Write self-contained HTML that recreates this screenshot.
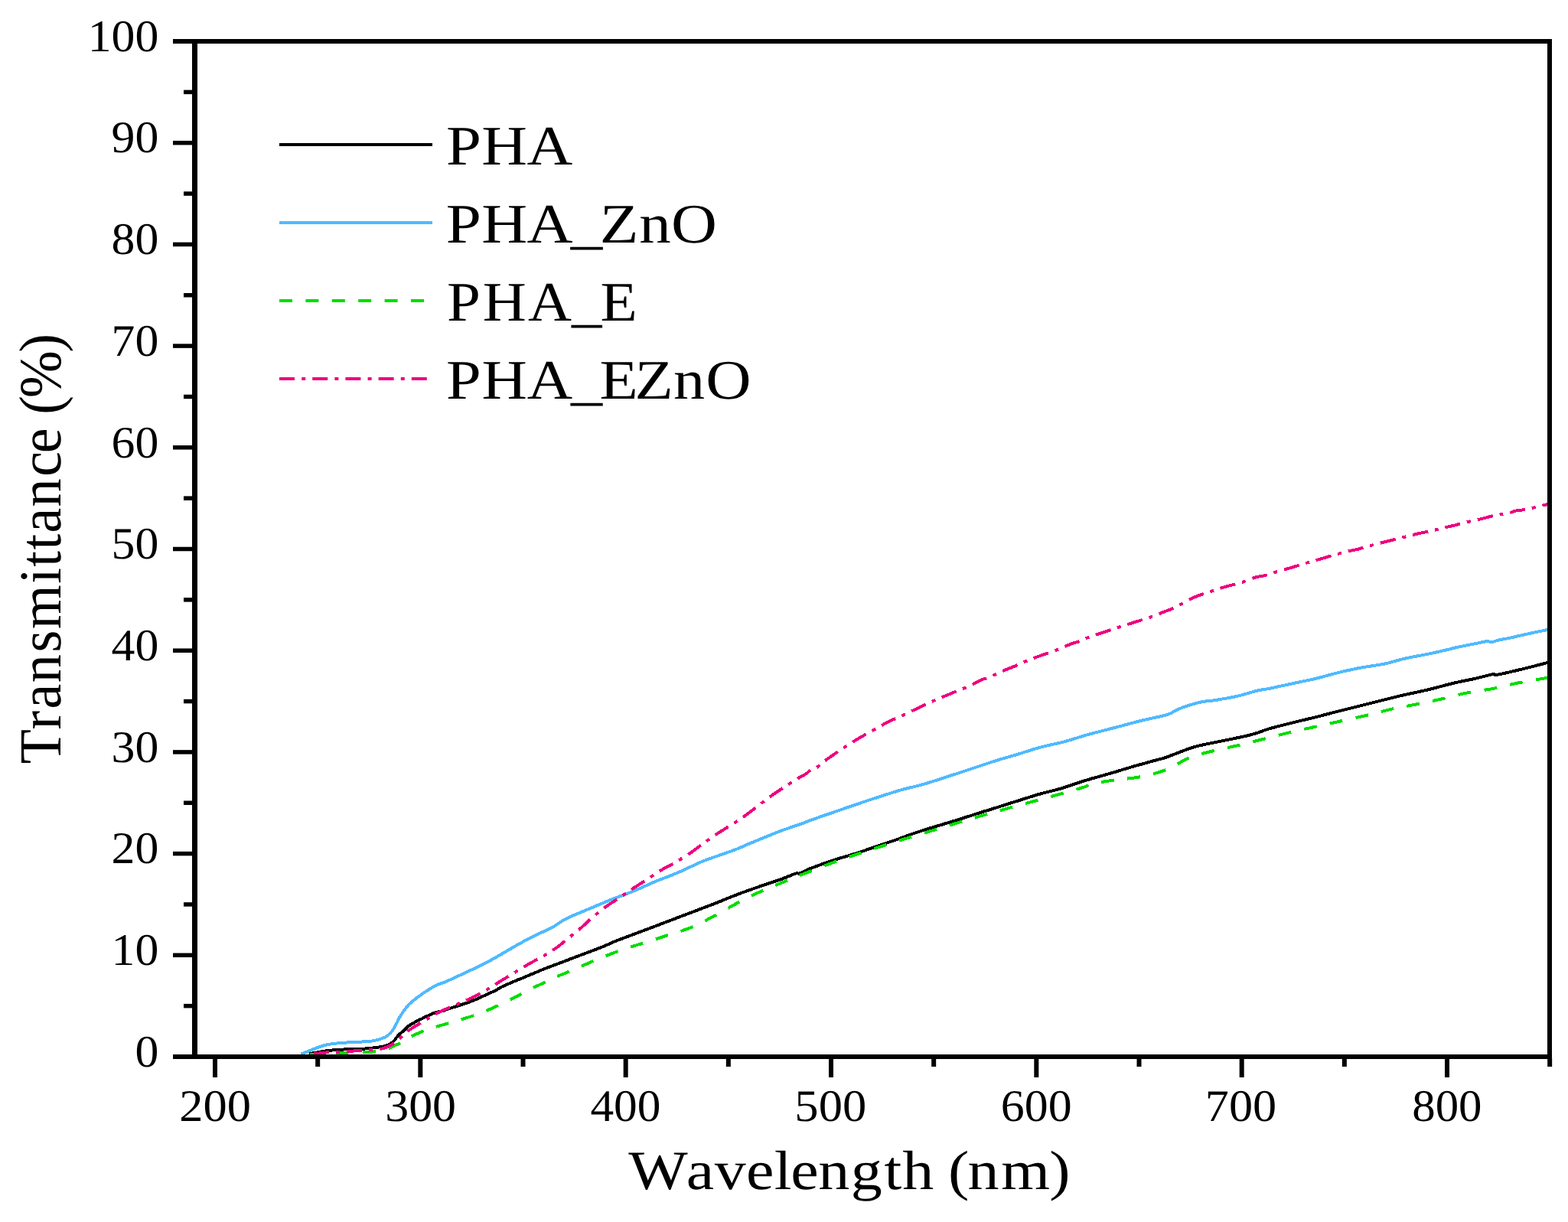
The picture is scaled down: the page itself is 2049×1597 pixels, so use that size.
<!DOCTYPE html>
<html><head><meta charset="utf-8"><title>Transmittance</title><style>html,body{margin:0;padding:0;background:#fff;width:2049px;height:1597px;overflow:hidden}svg{display:block}text{text-rendering:geometricPrecision}</style></head><body>
<svg width="2049" height="1597" viewBox="0 0 2049 1597">
<rect width="2049" height="1597" fill="#fff"/>
<g fill="none" stroke-width="4" stroke-linejoin="round" shape-rendering="crispEdges">
<path d="M403.8 1377.4 C405.5 1377.1 410.9 1376.0 414.3 1375.4 C417.7 1374.8 420.8 1374.2 424.0 1373.7 C427.2 1373.2 430.5 1372.8 433.8 1372.5 C437.1 1372.2 440.4 1372.2 443.6 1372.0 C446.9 1371.8 448.4 1371.4 453.3 1371.2 C458.2 1371.0 468.4 1371.0 472.8 1370.8 C477.2 1370.6 476.7 1370.5 480.0 1370.2 C483.3 1369.9 488.9 1369.4 492.5 1368.9 C496.1 1368.4 499.1 1368.0 501.9 1367.3 C504.7 1366.6 507.3 1365.6 509.4 1364.5 C511.5 1363.4 512.6 1362.6 514.4 1360.8 C516.2 1359.0 518.0 1355.8 520.1 1353.6 C522.2 1351.3 524.8 1349.3 527.0 1347.3 C529.2 1345.3 530.6 1343.3 533.2 1341.4 C535.8 1339.5 539.5 1337.4 542.6 1335.7 C545.7 1334.0 548.9 1332.6 552.0 1331.0 C555.1 1329.4 558.3 1327.7 561.4 1326.4 C564.5 1325.0 567.7 1323.7 570.8 1322.8 C573.9 1321.8 577.4 1321.3 580.0 1320.6 C582.6 1319.8 583.3 1319.3 586.4 1318.3 C589.5 1317.3 593.4 1316.2 598.8 1314.4 C604.2 1312.6 611.7 1310.3 618.6 1307.5 C625.5 1304.7 635.1 1300.0 640.0 1297.8 C644.9 1295.6 645.4 1295.6 647.8 1294.3 C650.2 1293.0 651.0 1292.0 654.6 1290.2 C658.2 1288.4 665.5 1285.3 669.3 1283.7 C673.0 1282.1 674.7 1281.4 677.1 1280.4 C679.5 1279.4 680.3 1279.2 683.9 1277.7 C687.5 1276.2 694.0 1273.4 698.6 1271.5 C703.2 1269.6 706.4 1268.1 711.5 1266.1 C716.6 1264.1 721.4 1262.4 729.3 1259.4 C737.1 1256.4 748.9 1252.0 758.6 1248.3 C768.4 1244.6 780.5 1240.1 787.8 1237.2 C795.1 1234.3 797.5 1232.8 802.6 1230.7 C807.7 1228.6 810.7 1227.5 818.5 1224.6 C826.3 1221.6 839.3 1216.8 849.3 1213.0 C859.3 1209.2 871.4 1204.7 878.6 1201.9 C885.9 1199.1 887.9 1198.3 892.8 1196.5 C897.7 1194.6 900.4 1193.6 907.8 1190.8 C915.2 1188.0 929.8 1182.5 937.1 1179.6 C944.4 1176.7 945.4 1176.1 951.7 1173.6 C958.0 1171.1 967.3 1167.5 975.1 1164.7 C982.9 1161.9 990.8 1159.2 998.6 1156.5 C1006.4 1153.8 1015.2 1151.1 1022.0 1148.6 C1028.8 1146.1 1035.7 1142.8 1039.6 1141.6 C1043.5 1140.4 1042.2 1142.4 1045.4 1141.3 C1048.6 1140.2 1051.2 1138.1 1058.5 1135.2 C1065.8 1132.3 1079.3 1127.4 1089.3 1124.1 C1099.3 1120.8 1108.8 1118.4 1118.6 1115.3 C1128.3 1112.2 1138.0 1108.6 1147.8 1105.3 C1157.5 1102.0 1169.8 1098.0 1177.1 1095.4 C1184.4 1092.8 1184.4 1092.4 1191.7 1089.9 C1199.0 1087.4 1211.2 1083.6 1221.0 1080.6 C1230.8 1077.6 1243.4 1073.9 1250.3 1071.8 C1257.2 1069.7 1257.7 1069.4 1262.6 1067.9 C1267.5 1066.3 1273.6 1064.3 1279.6 1062.4 C1285.6 1060.5 1290.2 1059.2 1298.5 1056.6 C1306.8 1054.0 1319.3 1049.9 1329.3 1046.8 C1339.3 1043.7 1348.8 1040.5 1358.6 1037.7 C1368.3 1034.9 1377.8 1033.1 1387.8 1030.1 C1397.8 1027.1 1408.2 1023.0 1418.5 1019.9 C1428.8 1016.8 1439.3 1014.1 1449.3 1011.2 C1459.3 1008.3 1468.8 1005.2 1478.6 1002.4 C1488.3 999.6 1500.5 996.2 1507.8 994.2 C1515.1 992.2 1517.5 991.8 1522.6 990.1 C1527.7 988.5 1532.7 986.4 1538.5 984.2 C1544.3 982.0 1551.5 979.0 1557.6 977.1 C1563.7 975.2 1568.3 974.2 1575.1 972.7 C1581.9 971.2 1589.8 969.8 1598.6 968.0 C1607.4 966.2 1620.4 963.6 1627.8 961.9 C1635.2 960.2 1637.9 959.3 1643.0 957.8 C1648.1 956.2 1650.8 954.6 1658.5 952.4 C1666.2 950.2 1679.3 946.9 1689.3 944.4 C1699.3 941.9 1708.8 939.8 1718.6 937.4 C1728.3 935.0 1737.8 932.3 1747.8 929.8 C1757.8 927.2 1768.2 924.7 1778.5 922.1 C1788.8 919.5 1801.4 916.4 1809.3 914.4 C1817.2 912.4 1820.9 911.5 1825.8 910.3 C1830.7 909.1 1831.6 909.0 1838.6 907.4 C1845.6 905.8 1858.0 903.4 1867.8 901.0 C1877.5 898.6 1889.8 895.1 1897.1 893.3 C1904.4 891.5 1906.2 891.2 1911.4 890.1 C1916.6 889.0 1921.9 888.2 1928.4 886.7 C1935.0 885.2 1946.3 882.0 1950.7 881.2 C1955.1 880.4 1950.7 882.7 1954.8 882.1 C1958.9 881.5 1968.0 879.4 1975.3 877.7 C1982.6 876.0 1990.8 874.1 1998.7 872.1 C2006.6 870.1 2018.5 866.9 2022.5 865.9" stroke="#000"/>
<path d="M393.4 1377.5 C395.2 1376.8 401.0 1374.6 404.5 1373.2 C408.0 1371.8 411.1 1370.5 414.3 1369.3 C417.6 1368.1 420.8 1366.9 424.0 1366.1 C427.2 1365.2 430.5 1364.7 433.8 1364.2 C437.1 1363.7 440.4 1363.5 443.6 1363.2 C446.9 1362.9 450.1 1362.7 453.3 1362.5 C456.6 1362.3 459.9 1362.2 463.1 1362.0 C466.4 1361.8 470.0 1361.7 472.8 1361.5 C475.6 1361.3 477.8 1361.3 480.0 1361.1 C482.2 1360.9 484.2 1360.8 486.3 1360.5 C488.4 1360.2 490.4 1359.7 492.5 1359.2 C494.6 1358.7 496.7 1358.1 498.8 1357.3 C500.9 1356.5 503.1 1355.7 505.0 1354.5 C506.9 1353.3 508.5 1351.8 510.1 1350.1 C511.7 1348.4 513.0 1346.8 514.4 1344.5 C515.8 1342.2 517.4 1339.0 518.8 1336.4 C520.2 1333.8 521.1 1331.3 522.6 1328.8 C524.1 1326.3 525.7 1323.9 527.6 1321.3 C529.5 1318.7 531.4 1315.8 533.9 1313.2 C536.4 1310.6 539.6 1308.1 542.6 1305.7 C545.6 1303.3 548.9 1301.0 552.0 1298.8 C555.1 1296.6 558.3 1294.5 561.4 1292.6 C564.5 1290.7 567.7 1288.8 570.8 1287.3 C573.9 1285.9 577.9 1284.8 580.0 1284.0 C582.1 1283.2 578.4 1284.9 583.4 1282.6 C588.4 1280.3 601.7 1274.2 610.0 1270.3 C618.3 1266.4 625.6 1263.2 633.4 1259.2 C641.2 1255.2 649.1 1250.5 656.9 1246.0 C664.7 1241.5 672.5 1236.8 680.3 1232.5 C688.1 1228.2 696.9 1223.9 703.7 1220.5 C710.5 1217.1 715.2 1215.6 721.3 1212.3 C727.3 1209.0 732.0 1204.6 740.0 1200.6 C748.0 1196.5 759.5 1192.2 769.3 1188.0 C779.1 1183.8 788.9 1179.6 798.6 1175.7 C808.4 1171.8 818.0 1168.6 827.8 1164.6 C837.5 1160.6 850.0 1154.7 857.1 1151.7 C864.2 1148.7 864.9 1148.8 870.3 1146.7 C875.7 1144.5 881.2 1142.4 889.3 1138.9 C897.3 1135.4 910.1 1128.9 918.6 1125.4 C927.1 1121.9 932.5 1120.5 940.0 1117.8 C947.5 1115.1 957.2 1111.8 963.4 1109.4 C969.6 1107.0 968.5 1107.0 977.1 1103.4 C985.8 1099.8 1006.5 1091.3 1015.3 1087.8 C1024.0 1084.3 1023.8 1084.6 1029.6 1082.6 C1035.4 1080.6 1044.9 1077.4 1050.0 1075.6 C1055.1 1073.8 1054.4 1073.7 1060.0 1071.7 C1065.6 1069.7 1072.6 1067.2 1083.4 1063.5 C1094.2 1059.8 1113.1 1053.3 1125.1 1049.2 C1137.1 1045.2 1146.0 1042.2 1155.2 1039.3 C1164.4 1036.4 1172.0 1033.9 1180.0 1031.7 C1188.0 1029.5 1195.1 1028.2 1203.4 1025.9 C1211.7 1023.6 1220.1 1020.8 1230.0 1017.7 C1239.9 1014.5 1250.9 1010.9 1262.6 1007.0 C1274.3 1003.2 1288.9 998.1 1300.0 994.6 C1311.1 991.1 1319.2 988.9 1329.3 985.9 C1339.3 982.9 1350.2 979.1 1360.3 976.4 C1370.4 973.7 1380.0 972.1 1390.0 969.5 C1400.0 966.9 1410.1 963.3 1420.0 960.5 C1429.9 957.7 1438.1 955.8 1449.3 952.9 C1460.5 950.0 1477.5 945.3 1487.0 942.9 C1496.5 940.5 1499.7 940.0 1506.3 938.5 C1512.9 936.9 1521.0 935.6 1526.6 933.6 C1532.2 931.6 1534.8 928.9 1540.0 926.7 C1545.2 924.5 1552.4 922.2 1557.6 920.6 C1562.8 919.0 1566.4 918.0 1571.4 917.1 C1576.4 916.2 1582.3 916.0 1587.7 915.1 C1593.1 914.3 1598.6 913.3 1604.0 912.3 C1609.4 911.3 1613.5 910.7 1620.0 909.1 C1626.5 907.5 1636.3 904.2 1643.0 902.6 C1649.7 901.0 1652.3 901.2 1660.0 899.6 C1667.7 898.0 1679.5 895.3 1689.3 893.2 C1699.1 891.1 1708.8 889.3 1718.6 887.0 C1728.4 884.7 1740.0 881.2 1748.2 879.2 C1756.4 877.1 1762.3 875.9 1767.6 874.8 C1772.9 873.6 1773.0 873.5 1780.0 872.3 C1787.0 871.1 1801.7 869.1 1809.3 867.6 C1816.9 866.1 1820.9 864.4 1825.8 863.2 C1830.7 861.9 1831.6 861.5 1838.6 860.0 C1845.6 858.5 1858.8 856.3 1867.8 854.4 C1876.8 852.5 1886.4 850.2 1892.6 848.8 C1898.8 847.3 1899.0 847.0 1905.0 845.7 C1911.0 844.4 1922.1 842.4 1928.4 841.1 C1934.8 839.8 1939.7 838.4 1943.1 838.1 C1946.5 837.8 1946.5 839.5 1948.9 839.3 C1951.3 839.1 1953.3 837.7 1957.7 836.7 C1962.1 835.7 1968.5 834.7 1975.3 833.2 C1982.1 831.7 1990.8 829.6 1998.7 827.9 C2006.6 826.2 2018.5 823.7 2022.5 822.9" stroke="#4FBAFF"/>
<path d="M405.0 1378.0 C409.2 1377.8 420.8 1377.2 430.0 1376.8 C439.2 1376.3 449.8 1375.7 460.0 1375.3 C470.2 1374.9 484.3 1374.8 491.3 1374.3 C498.3 1373.8 496.5 1374.4 501.9 1372.5 C507.3 1370.6 518.0 1365.6 523.8 1362.7 C529.5 1359.8 531.2 1357.8 536.4 1355.1 C541.6 1352.4 550.4 1348.6 555.1 1346.6 C559.8 1344.7 558.2 1345.4 564.4 1343.5 C570.6 1341.6 582.2 1338.4 592.5 1335.3 C602.8 1332.2 615.2 1328.8 625.9 1324.8 C636.6 1320.8 646.7 1316.1 656.9 1311.3 C667.1 1306.5 676.3 1301.3 687.1 1295.9 C697.9 1290.5 711.9 1283.5 721.7 1279.0 C731.5 1274.5 737.0 1272.6 746.0 1268.8 C755.0 1265.0 765.3 1260.2 775.5 1255.9 C785.7 1251.7 796.7 1247.1 807.2 1243.3 C817.7 1239.5 827.7 1236.6 838.4 1233.2 C849.1 1229.8 860.4 1226.2 871.2 1222.7 C882.1 1219.2 893.1 1216.2 903.5 1211.9 C913.9 1207.6 922.7 1202.7 933.6 1196.9 C944.5 1191.1 958.4 1182.7 969.0 1177.2 C979.6 1171.7 987.2 1168.2 997.1 1163.8 C1007.0 1159.4 1018.3 1155.0 1028.1 1151.0 C1037.9 1147.0 1045.4 1143.9 1056.0 1139.8 C1066.6 1135.7 1080.2 1130.4 1091.6 1126.2 C1103.0 1122.0 1113.6 1118.4 1124.4 1114.8 C1135.2 1111.2 1145.6 1108.0 1156.6 1104.5 C1167.6 1101.0 1179.3 1097.2 1190.5 1093.8 C1201.7 1090.3 1213.0 1087.1 1223.9 1083.8 C1234.8 1080.5 1245.1 1077.2 1256.1 1073.9 C1267.1 1070.6 1278.8 1067.2 1290.1 1063.9 C1301.4 1060.7 1312.9 1057.5 1324.0 1054.4 C1335.1 1051.4 1345.7 1048.6 1356.8 1045.6 C1367.9 1042.6 1380.6 1039.1 1390.8 1036.2 C1401.0 1033.3 1411.5 1030.3 1417.7 1028.3 C1423.9 1026.3 1421.7 1025.6 1428.2 1024.1 C1434.7 1022.6 1446.4 1020.9 1456.9 1019.4 C1467.4 1017.9 1480.2 1017.2 1491.4 1015.0 C1502.6 1012.8 1513.5 1010.0 1524.0 1005.9 C1534.5 1001.8 1543.6 994.7 1554.1 990.5 C1564.6 986.3 1575.9 983.7 1586.9 980.9 C1597.9 978.1 1609.2 976.2 1620.2 973.6 C1631.2 971.0 1641.8 968.2 1653.0 965.4 C1664.2 962.6 1676.5 959.3 1687.5 956.7 C1698.5 954.1 1708.3 952.1 1719.2 949.7 C1730.1 947.3 1741.9 944.6 1753.1 942.1 C1764.3 939.6 1775.6 937.3 1786.5 934.7 C1797.4 932.1 1807.6 929.1 1818.4 926.7 C1829.2 924.3 1840.5 922.5 1851.5 920.3 C1862.5 918.1 1873.4 915.8 1884.5 913.3 C1895.6 910.8 1906.6 907.6 1917.9 905.3 C1929.2 903.0 1941.1 901.9 1952.2 899.7 C1963.3 897.5 1974.1 894.4 1984.6 892.3 C1995.1 890.2 2008.8 888.1 2015.1 887.0 C2021.4 885.9 2021.3 885.7 2022.5 885.4" stroke="#00DD00" stroke-dasharray="17 17.4"/>
<path d="M409.7 1377.3 C411.6 1377.1 416.9 1376.5 421.0 1376.1 C425.1 1375.7 428.5 1375.1 434.3 1374.8 C440.1 1374.5 450.4 1374.5 455.8 1374.2 C461.2 1373.9 462.5 1373.2 466.5 1372.9 C470.5 1372.6 475.1 1372.8 480.0 1372.5 C484.9 1372.2 490.8 1372.4 495.7 1371.4 C500.6 1370.4 505.3 1368.8 509.4 1366.7 C513.5 1364.6 516.3 1362.0 520.1 1358.9 C523.9 1355.8 528.4 1351.2 532.0 1348.3 C535.6 1345.4 538.5 1343.8 542.0 1341.5 C545.5 1339.3 549.6 1337.1 553.3 1334.8 C557.0 1332.6 559.9 1330.4 564.1 1328.0 C568.3 1325.6 572.9 1323.1 578.7 1320.4 C584.5 1317.7 592.2 1314.8 598.9 1311.9 C605.6 1309.0 612.5 1306.0 618.9 1302.8 C625.3 1299.6 631.3 1296.3 637.3 1292.8 C643.3 1289.3 648.9 1285.5 654.9 1281.7 C660.9 1278.0 667.2 1274.1 673.5 1270.3 C679.8 1266.5 686.3 1262.5 692.6 1258.9 C698.9 1255.3 705.3 1252.5 711.3 1248.9 C717.3 1245.3 723.1 1241.5 728.6 1237.5 C734.1 1233.5 739.2 1228.9 744.5 1224.6 C749.8 1220.3 755.1 1216.2 760.3 1211.7 C765.4 1207.2 770.1 1202.4 775.4 1197.9 C780.7 1193.4 786.3 1189.0 792.1 1184.8 C797.9 1180.6 804.0 1177.0 810.0 1173.0 C816.0 1169.0 821.8 1164.7 827.8 1160.7 C833.8 1156.7 839.9 1153.0 846.0 1149.0 C852.1 1145.0 858.6 1140.5 864.7 1136.8 C870.8 1133.1 876.6 1130.6 882.8 1126.9 C889.0 1123.2 895.9 1119.0 901.9 1114.9 C907.9 1110.9 913.2 1106.5 918.6 1102.6 C924.0 1098.7 928.8 1095.1 934.4 1091.4 C940.0 1087.7 945.9 1084.2 952.0 1080.3 C958.1 1076.4 964.9 1072.2 971.0 1068.0 C977.1 1063.8 982.6 1059.3 988.6 1054.8 C994.6 1050.2 1001.0 1045.0 1007.0 1040.7 C1013.0 1036.4 1018.4 1032.8 1024.3 1029.0 C1030.2 1025.2 1037.3 1020.6 1042.2 1017.6 C1047.1 1014.6 1050.5 1013.2 1053.5 1011.1 C1056.5 1009.0 1058.2 1006.7 1060.5 1005.3 C1062.8 1003.9 1064.8 1004.7 1067.6 1002.9 C1070.4 1001.1 1073.0 998.1 1077.5 994.7 C1082.0 991.3 1088.5 986.8 1094.5 982.7 C1100.5 978.6 1107.2 974.0 1113.5 970.1 C1119.8 966.2 1125.7 962.9 1132.0 959.3 C1138.3 955.7 1145.8 951.5 1151.3 948.5 C1156.8 945.5 1161.0 943.2 1164.8 941.4 C1168.6 939.6 1170.0 939.6 1174.1 937.7 C1178.2 935.9 1183.6 933.0 1189.3 930.3 C1195.0 927.6 1201.6 924.3 1208.1 921.3 C1214.5 918.3 1221.4 915.3 1228.0 912.5 C1234.6 909.7 1241.1 907.0 1247.6 904.3 C1254.1 901.6 1261.3 899.1 1267.2 896.4 C1273.1 893.7 1278.7 890.1 1283.0 888.2 C1287.3 886.4 1289.2 886.8 1292.9 885.3 C1296.7 883.8 1300.1 881.3 1305.5 878.9 C1310.9 876.5 1318.7 873.7 1325.1 871.0 C1331.5 868.3 1337.5 865.4 1343.9 862.8 C1350.3 860.2 1356.9 857.9 1363.5 855.5 C1370.1 853.1 1377.4 850.9 1383.7 848.4 C1390.0 845.9 1396.7 842.5 1401.3 840.8 C1405.9 839.1 1407.6 839.4 1411.2 838.0 C1414.8 836.6 1417.5 834.8 1422.9 832.7 C1428.3 830.7 1436.9 828.0 1443.7 825.7 C1450.5 823.5 1457.1 821.3 1463.6 819.2 C1470.1 817.1 1476.2 815.2 1482.9 813.1 C1489.6 811.0 1497.2 808.7 1503.7 806.4 C1510.2 804.1 1517.1 801.1 1521.9 799.3 C1526.7 797.4 1528.6 797.0 1532.3 795.3 C1536.0 793.6 1539.3 791.5 1544.3 788.9 C1549.3 786.3 1556.3 782.4 1562.5 779.8 C1568.7 777.2 1574.8 775.5 1581.2 773.4 C1587.6 771.2 1594.0 768.9 1600.9 766.9 C1607.8 764.9 1615.8 763.2 1622.5 761.1 C1629.2 759.0 1636.4 755.8 1641.3 754.3 C1646.2 752.8 1647.9 753.4 1651.8 752.4 C1655.7 751.4 1659.4 749.9 1664.9 748.3 C1670.5 746.6 1678.4 744.5 1685.1 742.5 C1691.8 740.5 1698.6 738.3 1705.3 736.3 C1712.0 734.3 1718.6 732.5 1725.5 730.5 C1732.4 728.5 1740.5 726.1 1746.9 724.3 C1753.4 722.5 1759.8 720.9 1764.2 719.9 C1768.6 718.9 1769.4 719.0 1773.5 718.0 C1777.6 717.0 1782.7 715.2 1788.7 713.6 C1794.7 712.0 1802.4 710.1 1809.5 708.3 C1816.6 706.5 1824.5 704.5 1831.5 702.8 C1838.5 701.0 1844.7 699.4 1851.4 697.8 C1858.1 696.2 1866.1 694.7 1871.9 693.4 C1877.7 692.1 1881.4 691.1 1886.3 689.9 C1891.2 688.7 1896.8 687.5 1901.3 686.4 C1905.8 685.3 1907.6 684.5 1913.0 683.2 C1918.4 681.9 1927.0 680.1 1933.9 678.5 C1940.8 676.9 1948.6 674.6 1954.6 673.4 C1960.6 672.2 1965.4 672.2 1969.8 671.2 C1974.2 670.2 1977.1 668.3 1981.2 667.4 C1985.3 666.5 1989.0 666.9 1994.5 665.8 C2000.0 664.7 2009.5 662.1 2014.2 661.0 C2018.9 659.9 2021.1 659.3 2022.5 659.0" stroke="#EE0080" stroke-dasharray="20.5 9 5 9"/>
</g>
<g fill="#000">
<rect x="251" y="51" width="7" height="1333"/>
<rect x="226" y="51" width="1802" height="6"/>
<rect x="2022" y="51" width="6" height="1333"/>
<rect x="226" y="1378" width="1802" height="6"/>
<rect x="226" y="1378.25" width="26" height="5.5"/>
<rect x="240" y="1311.90" width="12" height="5.5"/>
<rect x="226" y="1245.55" width="26" height="5.5"/>
<rect x="240" y="1179.20" width="12" height="5.5"/>
<rect x="226" y="1112.85" width="26" height="5.5"/>
<rect x="240" y="1046.50" width="12" height="5.5"/>
<rect x="226" y="980.15" width="26" height="5.5"/>
<rect x="240" y="913.80" width="12" height="5.5"/>
<rect x="226" y="847.45" width="26" height="5.5"/>
<rect x="240" y="781.10" width="12" height="5.5"/>
<rect x="226" y="714.75" width="26" height="5.5"/>
<rect x="240" y="648.40" width="12" height="5.5"/>
<rect x="226" y="582.05" width="26" height="5.5"/>
<rect x="240" y="515.70" width="12" height="5.5"/>
<rect x="226" y="449.35" width="26" height="5.5"/>
<rect x="240" y="383.00" width="12" height="5.5"/>
<rect x="226" y="316.65" width="26" height="5.5"/>
<rect x="240" y="250.30" width="12" height="5.5"/>
<rect x="226" y="183.95" width="26" height="5.5"/>
<rect x="240" y="117.60" width="12" height="5.5"/>
<rect x="226" y="51.25" width="26" height="5.5"/>
<rect x="278.00" y="1383" width="6" height="25"/>
<rect x="412.17" y="1383" width="6" height="11"/>
<rect x="546.33" y="1383" width="6" height="25"/>
<rect x="680.50" y="1383" width="6" height="11"/>
<rect x="814.67" y="1383" width="6" height="25"/>
<rect x="948.83" y="1383" width="6" height="11"/>
<rect x="1083.00" y="1383" width="6" height="25"/>
<rect x="1217.17" y="1383" width="6" height="11"/>
<rect x="1351.33" y="1383" width="6" height="25"/>
<rect x="1485.50" y="1383" width="6" height="11"/>
<rect x="1619.67" y="1383" width="6" height="25"/>
<rect x="1753.83" y="1383" width="6" height="11"/>
<rect x="1888.00" y="1383" width="6" height="25"/>
<rect x="2022.16" y="1383" width="6" height="11"/>
</g>
<g stroke-width="4" fill="none">
<line x1="365" y1="189" x2="565" y2="189" stroke="#000"/>
<line x1="365" y1="291" x2="565" y2="291" stroke="#4FBAFF"/>
<line x1="365" y1="393" x2="565" y2="393" stroke="#00DD00" stroke-dasharray="17 17.4"/>
<line x1="365" y1="495" x2="565" y2="495" stroke="#EE0080" stroke-dasharray="20 9.2 5 9"/>
</g>
<g font-family="'Liberation Serif', 'DejaVu Serif', serif" fill="#000" style="font-kerning:none">
<text transform="translate(176.47 1393.70) scale(1.0470 1)" font-size="59">0</text>
<text transform="translate(145.58 1261.00) scale(1.0470 1)" font-size="59">10</text>
<text transform="translate(145.58 1128.30) scale(1.0470 1)" font-size="59">20</text>
<text transform="translate(145.58 995.60) scale(1.0470 1)" font-size="59">30</text>
<text transform="translate(145.58 862.90) scale(1.0470 1)" font-size="59">40</text>
<text transform="translate(145.58 730.20) scale(1.0470 1)" font-size="59">50</text>
<text transform="translate(145.58 597.50) scale(1.0470 1)" font-size="59">60</text>
<text transform="translate(145.58 464.80) scale(1.0470 1)" font-size="59">70</text>
<text transform="translate(145.58 332.10) scale(1.0470 1)" font-size="59">80</text>
<text transform="translate(145.58 199.40) scale(1.0470 1)" font-size="59">90</text>
<text transform="translate(114.69 66.70) scale(1.0470 1)" font-size="59">100</text>
<text transform="translate(234.35 1465.30) scale(1.0590 1)" font-size="59">200</text>
<text transform="translate(503.24 1465.30) scale(1.0488 1)" font-size="59">300</text>
<text transform="translate(771.40 1465.30) scale(1.0399 1)" font-size="59">400</text>
<text transform="translate(1038.37 1465.30) scale(1.0601 1)" font-size="59">500</text>
<text transform="translate(1307.84 1465.30) scale(1.0488 1)" font-size="59">600</text>
<text transform="translate(1574.80 1465.30) scale(1.0551 1)" font-size="59">700</text>
<text transform="translate(1845.28 1465.30) scale(1.0309 1)" font-size="59">800</text>
<text transform="translate(0 215.00) scale(1.1319 1)" x="514.99 555.94 608.35" font-size="73">PHA</text>
<text transform="translate(0 316.90) scale(1.1372 1)" x="512.52 553.25 605.42 655.69 689.23 734.42 771.31" font-size="73">PHA_ZnO</text>
<text transform="translate(0 419.00) scale(1.0811 1)" x="540.16 583.34 638.22 690.91 725.56" font-size="73">PHA_E</text>
<text transform="translate(0 520.60) scale(1.1257 1)" x="517.95 559.16 611.86 662.79 695.93 736.81 781.76 819.19" font-size="73">PHA_EZnO</text>
<text transform="translate(0 1554.00) scale(1.1319 1)" x="725.55 792.34 825.01 861.38 893.76 912.93 944.75 982.24 1020.84 1041.76 1078.01 1094.54 1117.07 1155.77 1211.48" font-size="72.5">Wavelength (nm)</text>
<text transform="translate(79.00 1000.00) rotate(-90) scale(0.9494 1)" x="1.82 48.88 77.54 113.59 155.37 187.48 249.99 273.03 296.52 319.74 355.58 397.45 429.53 464.15 482.70 505.53 567.88" font-size="78">Transmittance (%)</text>
</g>
</svg>
</body></html>
